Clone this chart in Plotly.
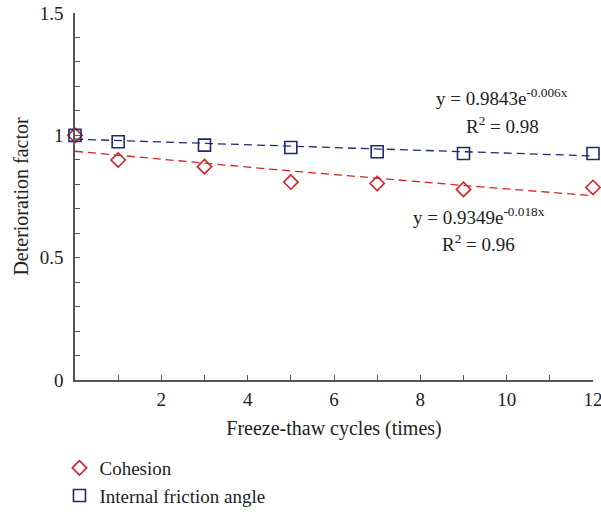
import numpy as np
import plotly.graph_objects as go

# ---- data ----
cycles = [0, 1, 3, 5, 7, 9, 12]
cohesion = [1.0, 0.899, 0.872, 0.809, 0.803, 0.779, 0.787]
friction = [1.0, 0.974, 0.960, 0.950, 0.933, 0.926, 0.926]

# fitted exponential trend parameters (as printed on the chart)
coh_a, coh_b, coh_r2 = 0.9349, -0.018, 0.96
fri_a, fri_b, fri_r2 = 0.9843, -0.006, 0.98

y_ticks = [0, 0.5, 1, 1.5]
y_ticklabels = ["0", "0.5", "1", "1.5"]
x_ticks = [0, 2, 4, 6, 8, 10, 12]
x_ticklabels = ["", "2", "4", "6", "8", "10", "12"]

RED = "#d2232a"
NAVY = "#1e2a6e"
AXIS = "#555555"
TXT = "#222222"
FONT = "Liberation Serif"
FS = 19

W, H = 601, 515
TOP, BOTTOM_PLOT = 13, 380
ydom0 = (H - BOTTOM_PLOT) / (H - TOP)

xfit = np.linspace(0, 12, 61)

fig = go.Figure()
fig.add_trace(go.Scatter(x=xfit, y=coh_a * np.exp(coh_b * xfit), mode="lines",
                         line=dict(color=RED, width=1.3, dash="8px,5px"),
                         showlegend=False, hoverinfo="skip"))
fig.add_trace(go.Scatter(x=xfit, y=fri_a * np.exp(fri_b * xfit), mode="lines",
                         line=dict(color=NAVY, width=1.3, dash="8px,5px"),
                         showlegend=False, hoverinfo="skip"))
fig.add_trace(go.Scatter(x=cycles, y=cohesion, mode="markers", name="Cohesion",
                         legendgroup="a",
                         marker=dict(symbol="diamond-open", size=11, color=RED,
                                     line=dict(width=1.6, color=RED)),
                         cliponaxis=False))
fig.add_trace(go.Scatter(x=cycles, y=friction, mode="markers", name="Internal friction angle",
                         legendgroup="b",
                         marker=dict(symbol="square-open", size=12, color=NAVY,
                                     line=dict(width=1.6, color=NAVY)),
                         cliponaxis=False))

afont = dict(size=FS, family=FONT, color=TXT)
fig.add_annotation(x=9.9, y=1.155, xref="x", yref="y", showarrow=False,
                   text=f"y = {fri_a}e<sup>{fri_b}x</sup>", font=afont)
fig.add_annotation(x=9.9, y=1.042, xref="x", yref="y", showarrow=False,
                   text=f"R<sup>2</sup> = {fri_r2}", font=afont)
fig.add_annotation(x=9.35, y=0.669, xref="x", yref="y", showarrow=False,
                   text=f"y = {coh_a}e<sup>{coh_b}x</sup>", font=afont)
fig.add_annotation(x=9.35, y=0.560, xref="x", yref="y", showarrow=False,
                   text=f"R<sup>2</sup> = {coh_r2}", font=afont)

fig.update_layout(
    width=W, height=H,
    margin=dict(l=75, r=8, t=TOP, b=0),
    paper_bgcolor="white", plot_bgcolor="white",
    font=dict(family=FONT, size=FS, color=TXT),
    showlegend=True,
    legend=dict(x=-0.03, y=0.0, xanchor="left", yanchor="bottom",
                orientation="v", tracegroupgap=0,
                font=dict(size=FS, family=FONT, color=TXT),
                bgcolor="rgba(0,0,0,0)"),
    xaxis=dict(range=[0, 12], tickmode="array", tickvals=x_ticks, ticktext=x_ticklabels,
               ticks="inside", ticklen=5, tickwidth=1.2, tickcolor=AXIS,
               minor=dict(tickmode="array", tickvals=list(range(0, 13)),
                          ticks="inside", ticklen=5, tickwidth=1.2, tickcolor=AXIS),
               showline=True, linecolor=AXIS, linewidth=1.5, showgrid=False, zeroline=False,
               ticklabelstandoff=1, ticklabeloverflow="allow", automargin=False,
               title=dict(text="Freeze-thaw cycles (times)", standoff=12,
                          font=dict(size=20, family=FONT))),
    yaxis=dict(range=[0, 1.5], domain=[ydom0, 1], tickmode="array", tickvals=y_ticks,
               ticktext=y_ticklabels,
               ticks="inside", ticklen=5, tickwidth=1.2, tickcolor=AXIS,
               minor=dict(tickmode="linear", tick0=0, dtick=0.1,
                          ticks="inside", ticklen=5, tickwidth=1.2, tickcolor=AXIS),
               showline=True, linecolor=AXIS, linewidth=1.5, showgrid=False, zeroline=False,
               ticklabelstandoff=6, ticklabeloverflow="allow", automargin=False,
               title=dict(text="Deterioration factor", standoff=6,
                          font=dict(size=20, family=FONT))),
)

fig.write_html("out.html")
